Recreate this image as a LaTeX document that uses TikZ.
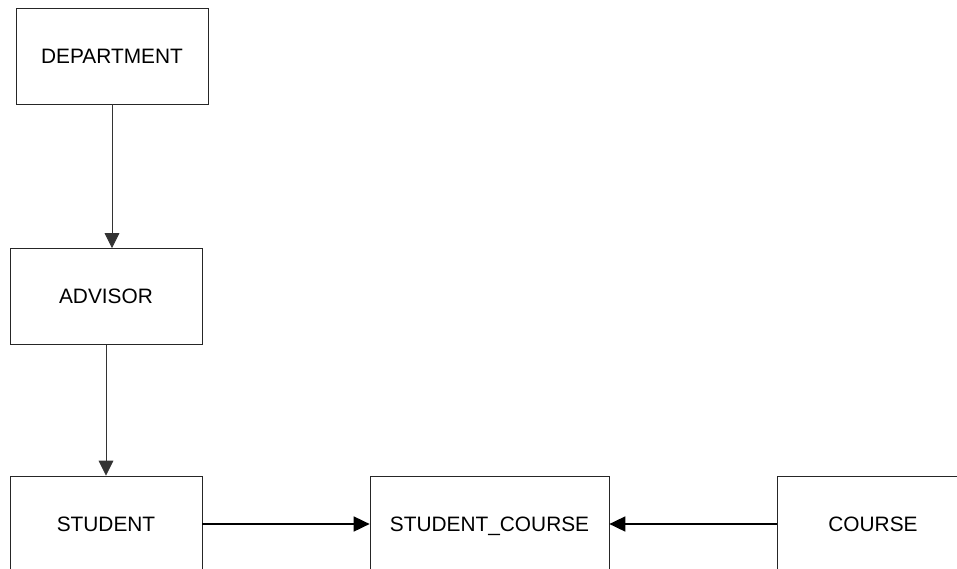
\documentclass[tikz,border=0pt]{standalone}
\usepackage{fontspec}
\setmainfont{Liberation Sans}
\usetikzlibrary{arrows.meta}

\begin{document}
\begin{tikzpicture}[x=0.03cm, y=-0.03cm,
  entity/.style={draw=black!85, line width=0.6pt, minimum width=5.76cm, minimum height=2.88cm,
    inner sep=0pt, text depth=0pt, font=\fontsize{17.8}{21}\selectfont},
  thinlink/.style={draw=black!80, line width=0.7pt, -{Triangle[length=0.45cm, width=0.44cm]}},
  thicklink/.style={draw=black, line width=1.5pt, -{Triangle[length=0.48cm, width=0.45cm]}}]

% Page frame
\useasboundingbox (0,0) rectangle (957,569);
\clip (0,0) rectangle (957,569);

% Tables
\node[entity] (dept) at (112, 56) {DEPARTMENT};
\node[entity] (advisor) at (106, 296.5) {ADVISOR};
\node[entity] (student) at (106, 524) {STUDENT};
\node[entity, minimum width=7.17cm] (stcourse) at (489.5, 524) {STUDENT\_COURSE};
\node[entity] (course) at (873, 524) {COURSE};

% Vertical links
\draw[thinlink] (dept.south) -- (dept.south |- advisor.north);
\draw[thinlink] (advisor.south) -- (student.north);

% Horizontal links
\draw[thicklink] (student.east) -- (stcourse.west);
\draw[thicklink] (course.west) -- (stcourse.east);

\end{tikzpicture}
\end{document}
